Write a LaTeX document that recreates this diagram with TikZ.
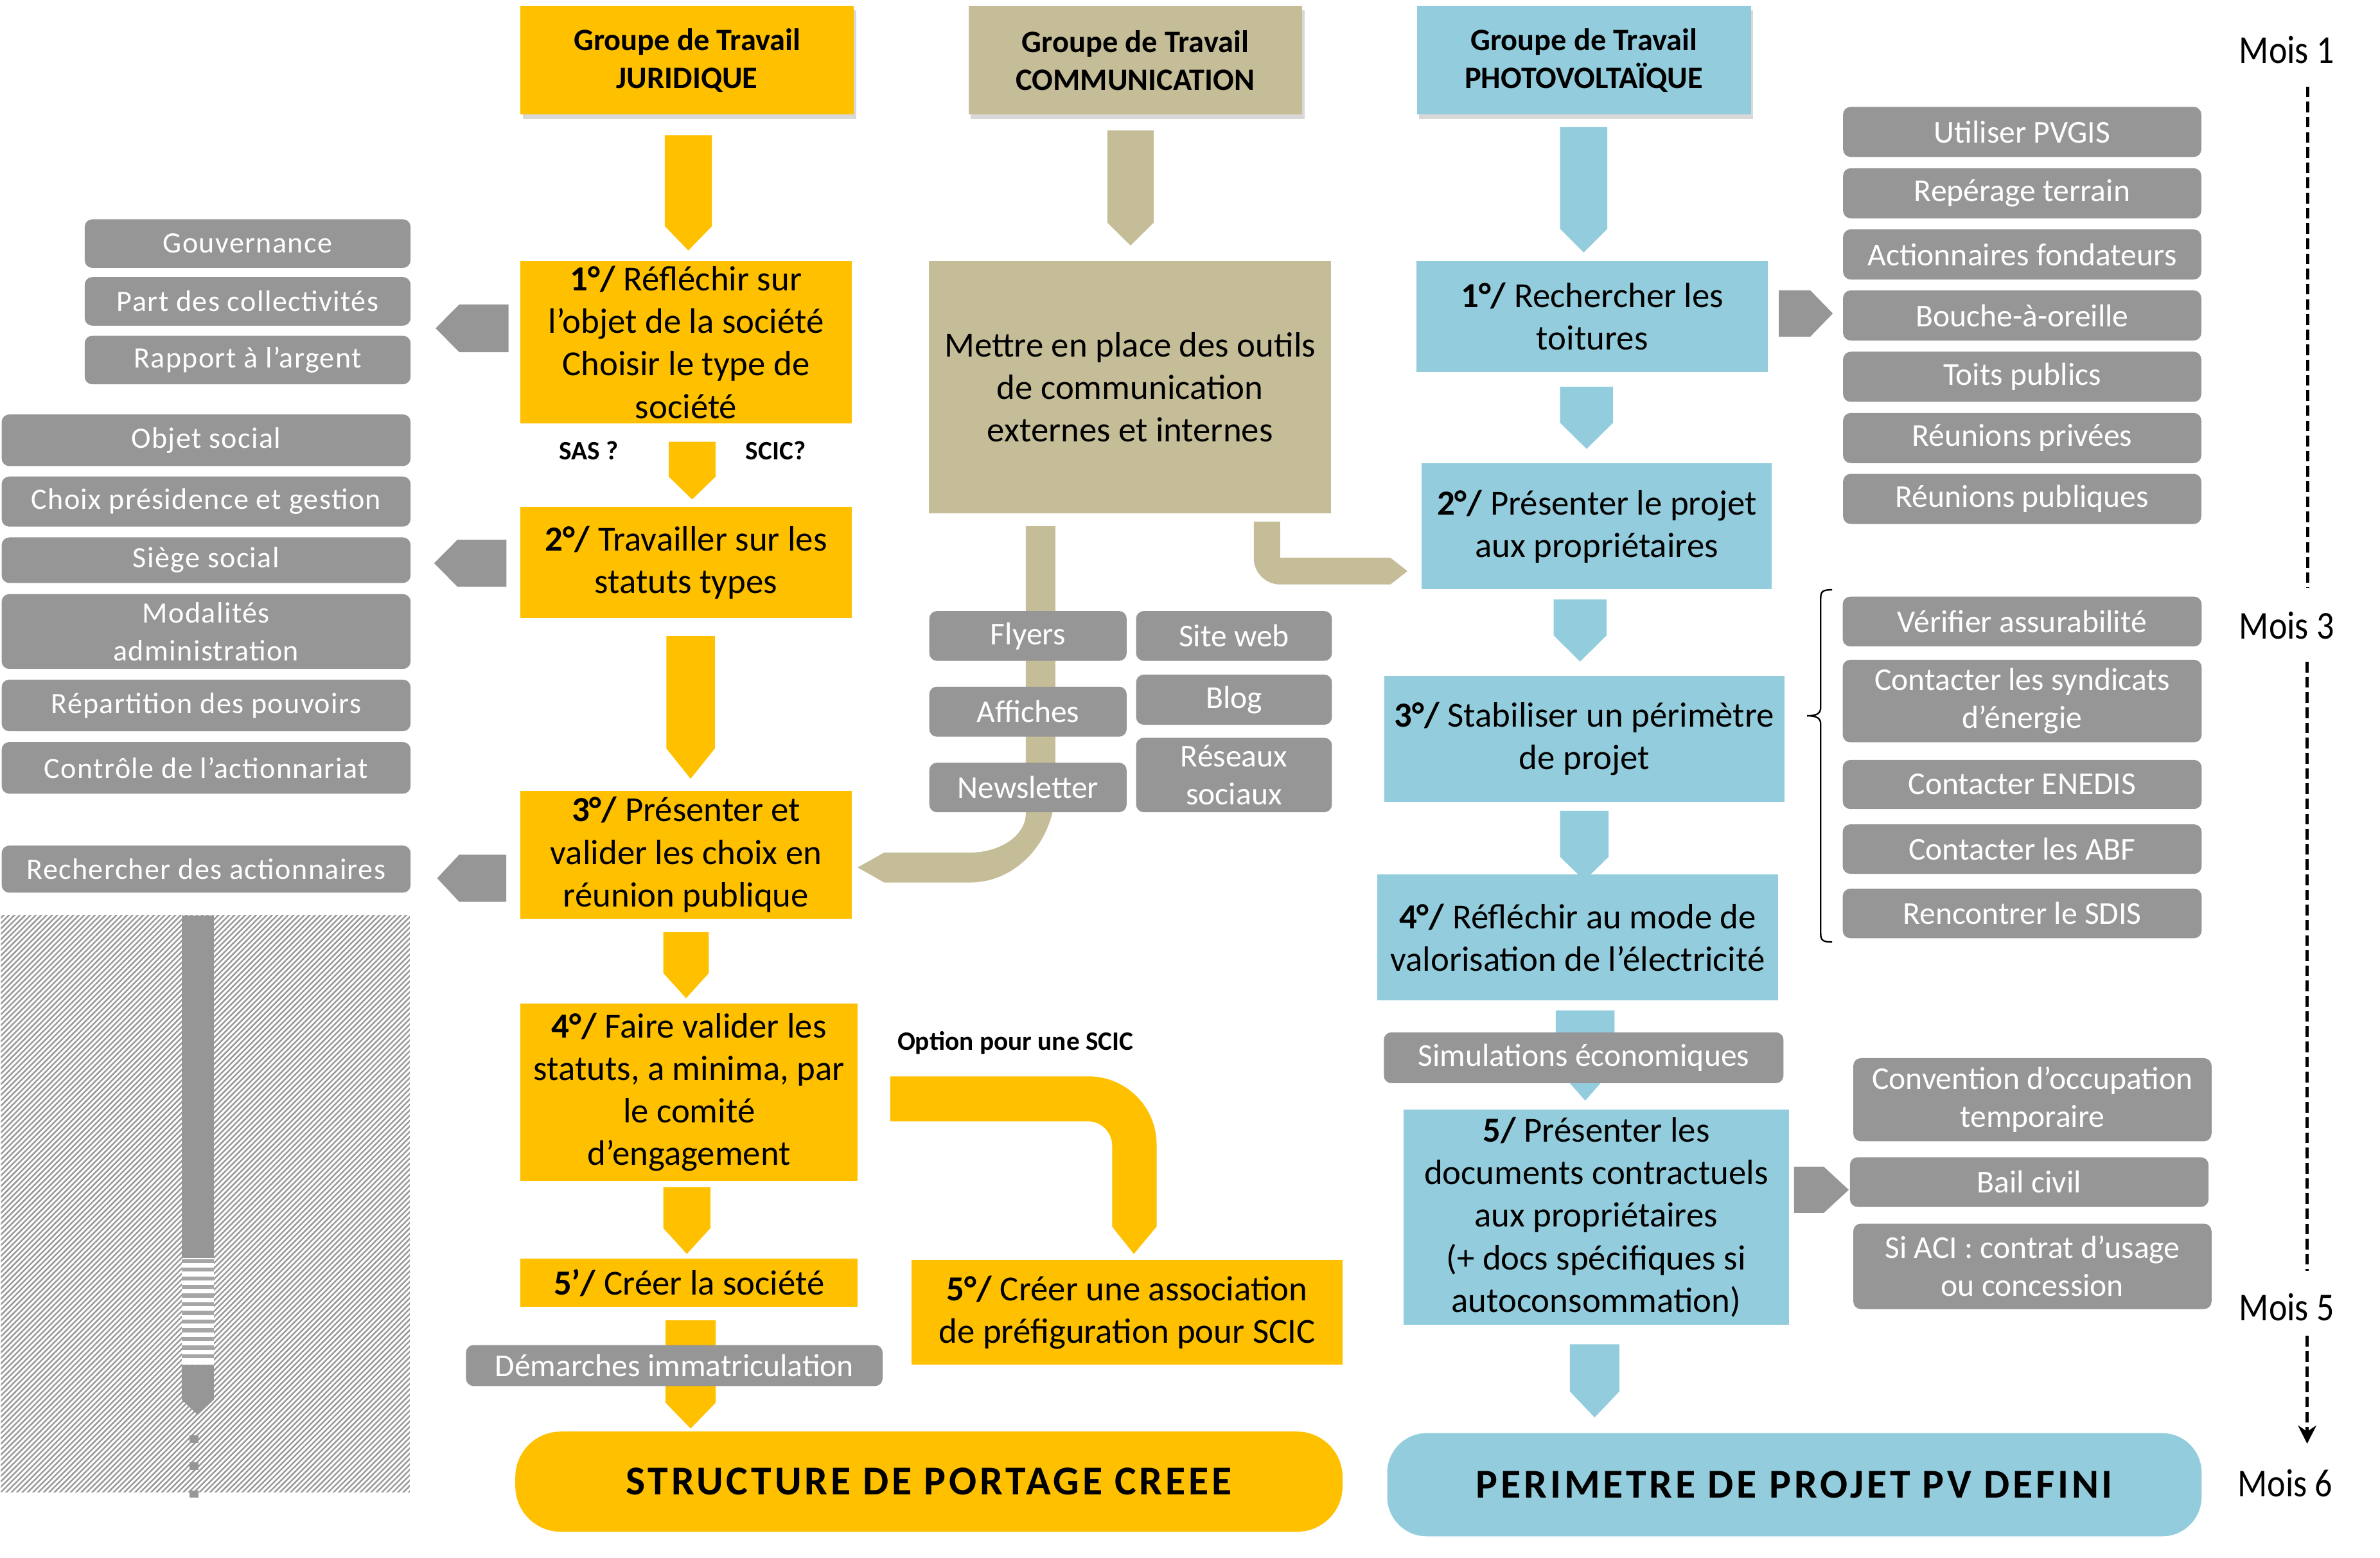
\documentclass[tikz,border=0pt]{standalone}
\usepackage{fontspec}
\setmainfont{Carlito}
\newfontfamily\lfont{Carlito}[LetterSpace=3]
\newfontfamily\moisfont{Carlito}[FakeStretch=0.88]
\newfontfamily\pillfont{Carlito}[LetterSpace=7.5]
\usetikzlibrary{patterns.meta,arrows.meta,shadows}
\definecolor{gold}{HTML}{FFC000}
\definecolor{tan}{HTML}{C4BD97}
\definecolor{bluec}{HTML}{93CDDD}
\definecolor{grayc}{HTML}{969696}
\newcommand\myDown[6]{\fill[#1] (#2,#4) -- (#3,#4) -- (#3,#5) -- ({(#2+#3)/2},#6) -- (#2,#5) -- cycle;}
\newcommand\myLeft[5]{\fill[grayc] (#5,#1) -- (#4,#1) -- (#3,{(#1+#2)/2}) -- (#4,#2) -- (#5,#2) -- cycle;}
\newcommand\myRight[5]{\fill[grayc] (#3,#1) -- (#4,#1) -- (#5,{(#1+#2)/2}) -- (#4,#2) -- (#3,#2) -- cycle;}
\tikzset{
  base/.style={align=center, inner sep=0pt, font=\fontsize{23.2}{28}\selectfont},
  gbox/.style={base, fill=gold},
  tbox/.style={base, fill=tan},
  bbox/.style={base, fill=bluec},
  grbox/.style={fill=grayc, rounded corners=5pt, text=white, align=center, inner sep=0pt, font=\fontsize{21}{25}\selectfont},
  lgbox/.style={grbox, font={\lfont\fontsize{19.5}{25}\selectfont}},
  hdr/.style={align=center, inner sep=0pt, font=\bfseries\fontsize{20.5}{25}\selectfont, drop shadow={shadow xshift=1.5pt, shadow yshift=-3pt, opacity=0.3}},
  pill/.style={align=center, inner sep=0pt, font={\pillfont\bfseries\fontsize{27}{30}\selectfont}},
  smallbold/.style={inner sep=0pt, font=\bfseries\fontsize{17.5}{20}\selectfont},
  mois/.style={inner sep=0pt, font={\moisfont\fontsize{26}{28}\selectfont}},
  dline/.style={line width=2.2pt, dash pattern=on 7pt off 3pt},
}
\begin{document}
\begin{tikzpicture}[x=1pt,y=-1pt]
\useasboundingbox (0,0) rectangle (1568,1026);
\fill[white] (0,0) rectangle (1568,1026);

% ---------- hatched area ----------
\fill[pattern={Lines[angle=45,distance=2.5pt,line width=1pt]}, pattern color=grayc] (0.6,603) rectangle (270,983);
\fill[grayc] (119.7,603) rectangle (140.9,828.5);
\fill[white] (119.7,828.5) rectangle (140.9,899);
\foreach \i in {0,...,11} \fill[grayc!85] (119.7,{829.3+\i*5.7}) rectangle (140.9,{832+\i*5.7});
\fill[grayc] (119.7,899) -- (140.9,899) -- (140.9,922) -- (130.3,932) -- (119.7,922) -- cycle;
\fill[grayc] (125,945.3) rectangle (130.8,950.4);
\fill[grayc] (125,963.2) rectangle (130.8,968.3);
\fill[grayc] (125,981.8) rectangle (130.8,986.5);

% ---------- block arrows (drawn under boxes) ----------
\myDown{gold}{438}{469}{89}{149}{165}
\myDown{gold}{440.6}{471.4}{291}{314}{329}
\myDown{gold}{439}{471}{419}{493}{513}
\myDown{gold}{437}{467}{614}{641}{657.5}
\myDown{gold}{437}{468}{782}{809}{826}
\myDown{gold}{438.5}{471.5}{869.7}{924}{941}
\myDown{tan}{729.6}{760}{86}{146.7}{161.7}
\myDown{bluec}{1027.8}{1058.9}{83.7}{150.8}{166.3}
\myDown{bluec}{1027.8}{1062.7}{254.7}{278.5}{295.7}
\myDown{bluec}{1023.6}{1058.4}{394.9}{418.6}{435.8}
\myDown{bluec}{1027.8}{1059.8}{534}{564.4}{580}
\myDown{bluec}{1025}{1063.7}{665.5}{703}{725}
\myDown{bluec}{1034.3}{1066.8}{885.5}{916.6}{933.7}

\myLeft{200.5}{232}{287}{302.6}{335}
\myLeft{355.5}{386.5}{286}{301.4}{333.6}
\myLeft{563}{594}{288}{302.5}{333.5}
\myRight{191.2}{221.8}{1171.9}{1192.6}{1207.5}
\myRight{768.5}{799}{1182}{1201.5}{1218}

% tan connectors
\fill[tan] (675.8,346.6) -- (675.8,536) .. controls (675.8,550.1) and (659.3,561.6) .. (639,561.6)
  -- (582.5,561.6) -- (565,571.4) -- (582.5,581.3) -- (639,581.3)
  .. controls (670.1,581.3) and (695.3,553.4) .. (695.3,519) -- (695.3,346.6) -- cycle;
\fill[tan] (826,343.6) -- (826,367.7) .. controls (826,377.2) and (833.8,385) .. (843.4,385)
  -- (916,385) -- (927.3,376.2) -- (916,367.4) -- (843.4,367.4) -- (843.4,343.6) -- cycle;
% gold curved arrow (option SCIC)
\fill[gold] (586.5,709) -- (717,709) .. controls (741.9,709) and (762,729.1) .. (762,754)
  -- (762,808) -- (747,826) -- (732.7,808) -- (732.7,754.6)
  .. controls (732.7,745.8) and (725.5,738.6) .. (716.7,738.6) -- (586.5,738.6) -- cycle;

% ---------- headers ----------
\node[hdr, fill=gold, minimum width=219.5pt, minimum height=71.5pt] (h1) at (452.7,39.7) {Groupe de Travail\\JURIDIQUE};
\node[hdr, fill=tan, minimum width=220pt, minimum height=71.5pt] (h2) at (748,39.7) {Groupe de Travail\\COMMUNICATION};
\node[hdr, fill=bluec, minimum width=220pt, minimum height=71.5pt] (h3) at (1043.5,39.7) {Groupe de Travail\\PHOTOVOLTAÏQUE};

% ---------- juridique column ----------
\node[gbox, minimum width=218pt, minimum height=107pt] (j1) at (452,225.5) {\textbf{1°/} Réfléchir sur\\l’objet de la société\\Choisir le type de\\société};
\node[smallbold] (sas) at (388,297) {SAS ?};
\node[smallbold] (scic) at (511,297) {SCIC?};
\node[gbox, minimum width=218pt, minimum height=73pt] (j2) at (452,370.5) {\textbf{2°/} Travailler sur les\\statuts types};
\node[gbox, minimum width=218pt, minimum height=84pt] (j3) at (452,563) {\textbf{3°/} Présenter et\\valider les choix en\\réunion publique};
\node[gbox, minimum width=222pt, minimum height=117pt] (j4) at (454,719.5) {\textbf{4°/} Faire valider les\\statuts, a minima, par\\le comité\\d’engagement};
\node[gbox, minimum width=222pt, minimum height=32pt] (j5) at (454,845) {\textbf{5’/} Créer la société};
\node[gbox, minimum width=284pt, minimum height=69pt] (j6) at (742.6,864.5) {\textbf{5°/} Créer une association\\de préfiguration pour SCIC};
\node[smallbold] (opt) at (669,687) {Option pour une SCIC};
\node[grbox, minimum width=274.5pt, minimum height=27pt] (dem) at (444.25,899.5) {Démarches immatriculation};
\node[pill, fill=gold, rounded corners=30pt, minimum width=545pt, minimum height=66pt] (p1) at (612,976) {STRUCTURE DE PORTAGE CREEE};

% left gray boxes
\node[lgbox, minimum width=214.7pt, minimum height=32pt] (g1) at (163.15,160.45) {Gouvernance};
\node[lgbox, minimum width=214.7pt, minimum height=32pt] (g2) at (163.15,198.5) {Part des collectivités};
\node[lgbox, minimum width=214.7pt, minimum height=32pt] (g3) at (163.15,237.15) {Rapport à l’argent};
\node[lgbox, minimum width=269.4pt, minimum height=34pt] (g4) at (135.8,290) {Objet social};
\node[lgbox, minimum width=269.4pt, minimum height=33pt] (g5) at (135.8,330.4) {Choix présidence et gestion};
\node[lgbox, minimum width=269.4pt, minimum height=30pt] (g6) at (135.8,369) {Siège social};
\node[lgbox, minimum width=269.4pt, minimum height=49.3pt] (g7) at (135.8,416) {Modalités\\administration};
\node[lgbox, minimum width=269.4pt, minimum height=34pt] (g8) at (135.8,464.65) {Répartition des pouvoirs};
\node[lgbox, minimum width=269.4pt, minimum height=34pt] (g9) at (135.8,505.8) {Contrôle de l’actionnariat};
\node[lgbox, minimum width=269.4pt, minimum height=31pt] (g10) at (135.8,572.5) {Rechercher des actionnaires};

% ---------- communication column ----------
\node[tbox, minimum width=265pt, minimum height=166pt] (c1) at (744.5,255) {Mettre en place des outils\\de communication\\externes et internes};
\node[grbox, minimum width=130pt, minimum height=32.8pt] (fly) at (677.25,418.9) {Flyers};
\node[grbox, minimum width=129pt, minimum height=32.8pt] (web) at (813,418.9) {Site web};
\node[grbox, minimum width=130pt, minimum height=33pt] (aff) at (677.25,468.8) {Affiches};
\node[grbox, minimum width=129pt, minimum height=33pt] (blog) at (813,460.9) {Blog};
\node[grbox, minimum width=130pt, minimum height=32.6pt] (news) at (677.25,518.7) {Newsletter};
\node[grbox, minimum width=129pt, minimum height=49pt] (res) at (813,510.5) {Réseaux\\sociaux};

% ---------- photovoltaique column ----------
\node[bbox, minimum width=231.3pt, minimum height=73.3pt] (b1) at (1049,208.5) {\textbf{1°/} Rechercher les\\toitures};
\node[bbox, minimum width=230.5pt, minimum height=83pt] (b2) at (1052,346.75) {\textbf{2°/} Présenter le projet\\aux propriétaires};
\node[bbox, minimum width=263.5pt, minimum height=83.2pt] (b3) at (1043.75,486.6) {\textbf{3°/} Stabiliser un périmètre\\de projet};
\node[bbox, minimum width=264pt, minimum height=83pt] (b4) at (1039.4,617.5) {\textbf{4°/} Réfléchir au mode de\\valorisation de l’électricité};
\node[grbox, minimum width=263.3pt, minimum height=33.5pt] (sim) at (1043.35,696.75) {Simulations économiques};
\node[bbox, minimum width=253.8pt, minimum height=142pt] (b5) at (1051.6,801.75) {\textbf{5/} Présenter les\\documents contractuels\\aux propriétaires\\(+ docs spécifiques si\\autoconsommation)};
\node[pill, fill=bluec, rounded corners=26pt, minimum width=536.5pt, minimum height=68pt] (p2) at (1182.2,978) {PERIMETRE DE PROJET PV DEFINI};

% right gray boxes
\node[grbox, minimum width=236pt, minimum height=33pt] (r1) at (1332.25,86.9) {Utiliser PVGIS};
\node[grbox, minimum width=236pt, minimum height=33pt] (r2) at (1332.25,127.3) {Repérage terrain};
\node[grbox, minimum width=236pt, minimum height=33pt] (r3) at (1332.25,167.6) {Actionnaires fondateurs};
\node[grbox, minimum width=236pt, minimum height=33pt] (r4) at (1332.25,207.8) {Bouche-à-oreille};
\node[grbox, minimum width=236pt, minimum height=33pt] (r5) at (1332.25,248.2) {Toits publics};
\node[grbox, minimum width=236pt, minimum height=33pt] (r6) at (1332.25,288.55) {Réunions privées};
\node[grbox, minimum width=236pt, minimum height=33pt] (r7) at (1332.25,328.65) {Réunions publiques};
\node[grbox, minimum width=236.5pt, minimum height=32.8pt] (s1) at (1332.25,409.4) {Vérifier assurabilité};
\node[grbox, minimum width=236.5pt, minimum height=54.4pt] (s2) at (1332.25,461.8) {Contacter les syndicats\\d’énergie};
\node[grbox, minimum width=236.5pt, minimum height=32.3pt] (s3) at (1332.25,516.75) {Contacter ENEDIS};
\node[grbox, minimum width=236.5pt, minimum height=32.6pt] (s4) at (1332.25,559.3) {Contacter les ABF};
\node[grbox, minimum width=236.5pt, minimum height=32.6pt] (s5) at (1332.25,601.7) {Rencontrer le SDIS};
\node[grbox, minimum width=236pt, minimum height=54.8pt] (d1) at (1339,724.4) {Convention d’occupation\\temporaire};
\node[grbox, minimum width=236.2pt, minimum height=32.7pt] (d2) at (1336.9,778.65) {Bail civil};
\node[grbox, minimum width=236pt, minimum height=56.3pt] (d3) at (1339,834.15) {Si ACI : contrat d’usage\\ou concession};

% brace
\draw[line width=1pt] (1207,388.5) .. controls (1201,388.5) and (1199.5,389.5) .. (1199.5,394) -- (1199.5,466)
  .. controls (1199.5,470.5) and (1196,471.5) .. (1190.5,471.5)
  .. controls (1196,471.5) and (1199.5,472.5) .. (1199.5,477) -- (1199.5,615)
  .. controls (1199.5,619.5) and (1201,620.5) .. (1207,620.5);

% ---------- timeline ----------
\node[mois] (m1) at (1506.5,33) {Mois 1};
\node[mois] (m3) at (1506.5,412) {Mois 3};
\node[mois] (m5) at (1506.5,861) {Mois 5};
\node[mois] (m6) at (1505.5,977) {Mois 6};
\coordinate (t1a) at (1520.5,57);
\coordinate (t1b) at (1520.5,387.4);
\coordinate (t3a) at (1520,436);
\coordinate (t3b) at (1520,837);
\coordinate (t5a) at (1520,880);
\coordinate (t5b) at (1520,951);
\draw[dline] (t1a) -- (t1b);
\draw[dline] (t3a) -- (t3b);
\draw[dline, -{Stealth[length=12pt,width=12pt,inset=4pt]}] (t5a) -- (t5b);
\end{tikzpicture}
\end{document}
